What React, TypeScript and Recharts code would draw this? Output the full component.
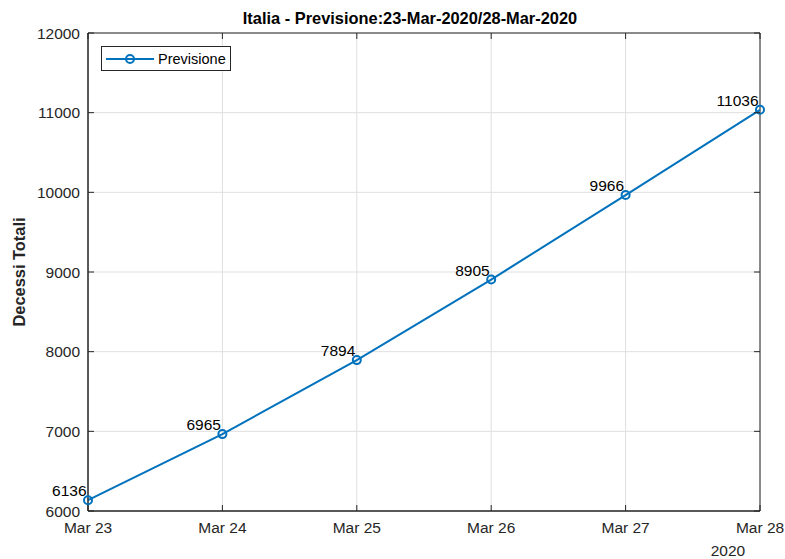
import React from "react";
import {
  ComposedChart,
  Line,
  XAxis,
  YAxis,
  CartesianGrid,
  ReferenceArea,
  LabelList,
} from "recharts";

const categories = ["Mar 23", "Mar 24", "Mar 25", "Mar 26", "Mar 27", "Mar 28"];
const previsione = [6136, 6965, 7894, 8905, 9966, 11036];
const yTicks = [6000, 7000, 8000, 9000, 10000, 11000, 12000];
const xTicks = [0, 1, 2, 3, 4, 5];
const title = "Italia - Previsione:23-Mar-2020/28-Mar-2020";
const yLabel = "Decessi Totali";
const yearLabel = "2020";
const seriesName = "Previsione";

const data = categories.map((c, i) => ({ x: i, label: c, value: previsione[i] }));

const W = 785;
const H = 559;
const M = { top: 33, right: 25, left: 0, bottom: 0 };
const Y_W = 88;
const X_H = 48;
const PLOT_TOP = M.top;
const PLOT_RIGHT = W - M.right;
const AX = "#262626";
const BLUE = "#0072BD";
const FONT = "'Liberation Sans', Arial, Helvetica, sans-serif";
const TL = 6;
const FS = 15.5;

const XTick = (props: any) => {
  const { x, y, payload } = props;
  return (
    <g>
      <line x1={x} y1={y} x2={x} y2={y - TL} stroke={AX} strokeWidth={1} />
      <line x1={x} y1={PLOT_TOP} x2={x} y2={PLOT_TOP + TL} stroke={AX} strokeWidth={1} />
      <text x={x} y={y + 22} textAnchor="middle" fill={AX} fontSize={FS} fontFamily={FONT}>
        {categories[payload.value]}
      </text>
    </g>
  );
};

const YTick = (props: any) => {
  const { x, y, payload } = props;
  return (
    <g>
      <line x1={x} y1={y} x2={x + TL} y2={y} stroke={AX} strokeWidth={1} />
      <line x1={PLOT_RIGHT - TL} y1={y} x2={PLOT_RIGHT} y2={y} stroke={AX} strokeWidth={1} />
      <text x={x - 8} y={y + 5.5} textAnchor="end" fill={AX} fontSize={FS} fontFamily={FONT}>
        {payload.value}
      </text>
    </g>
  );
};

const Dot = (props: any) => {
  const { cx, cy, index } = props;
  if (cx == null || cy == null) return null;
  return <circle key={index} cx={cx} cy={cy} r={4} fill="none" stroke={BLUE} strokeWidth={2} />;
};

const ValueLabel = (props: any) => {
  const { x, y, value } = props;
  return (
    <text x={x - 1.5} y={y - 4} textAnchor="end" fill="#000" fontSize={FS} fontFamily={FONT}>
      {value}
    </text>
  );
};

export default function App() {
  return (
    <div style={{ position: "absolute", left: 0, top: 0, width: W, height: H, background: "#fff" }}>
      <ComposedChart width={W} height={H} data={data} margin={M}>
        <CartesianGrid stroke="#dfdfdf" strokeWidth={1} />
        <XAxis
          type="number"
          dataKey="x"
          domain={[0, 5]}
          ticks={xTicks}
          height={X_H}
          tickLine={false}
          tickSize={0}
          tickMargin={0}
          axisLine={{ stroke: AX, strokeWidth: 1 }}
          tick={<XTick />}
          interval={0}
        />
        <YAxis
          type="number"
          domain={[6000, 12000]}
          ticks={yTicks}
          width={Y_W}
          tickLine={false}
          tickSize={0}
          tickMargin={0}
          axisLine={{ stroke: AX, strokeWidth: 1 }}
          tick={<YTick />}
          interval={0}
        />
        <ReferenceArea
          x1={0}
          x2={5}
          y1={6000}
          y2={12000}
          fill="none"
          stroke={AX}
          strokeWidth={1}
          fillOpacity={0}
          ifOverflow="visible"
        />
        <Line
          type="linear"
          dataKey="value"
          name={seriesName}
          stroke={BLUE}
          strokeWidth={2}
          dot={<Dot />}
          activeDot={false}
          isAnimationActive={false}
        >
          <LabelList dataKey="value" content={<ValueLabel />} />
        </Line>
        <g>
          <rect x={101.5} y={46.5} width={129} height={24} fill="#fff" stroke={AX} strokeWidth={1} />
          <line x1={106} y1={59} x2={154} y2={59} stroke={BLUE} strokeWidth={2} />
          <circle cx={130} cy={59} r={4} fill="none" stroke={BLUE} strokeWidth={2} />
          <text x={158} y={64} fill="#000" fontSize={14.5} fontFamily={FONT}>
            {seriesName}
          </text>
        </g>
        <text x={410} y={24} textAnchor="middle" fill="#000" fontSize={16.4} fontWeight="bold" fontFamily={FONT}>
          {title}
        </text>
        <text
          x={25}
          y={272}
          textAnchor="middle"
          fill={AX}
          fontSize={16.4}
          fontWeight="bold"
          fontFamily={FONT}
          transform="rotate(-90 25 272)"
        >
          {yLabel}
        </text>
        <text x={728} y={556} textAnchor="middle" fill={AX} fontSize={FS} fontFamily={FONT}>
          {yearLabel}
        </text>
      </ComposedChart>
    </div>
  );
}
